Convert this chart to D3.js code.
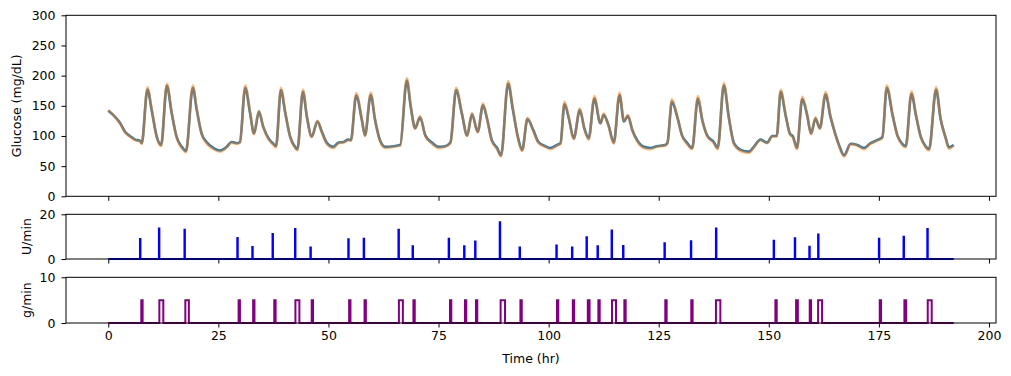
<!DOCTYPE html>
<html>
<head>
<meta charset="utf-8">
<script src="https://cdn.jsdelivr.net/npm/d3@7"></script>
<style>
  body { margin: 0; background: #fff; }
  text { font-family: "DejaVu Sans", sans-serif; }
</style>
</head>
<body>
<svg id="mainFrame" width="1011" height="376"></svg>
<script>
// glucose trace (hours), blue = CGM, orange = blood glucose
const glucoseTime = [
  0, 1.1, 2.65, 3.8, 4.9, 6.1, 7.2, 7.6,
  8.9, 9.85, 11, 12,
  13.3, 14.4, 15.5, 16.7, 17.65,
  19.2, 20.1, 21.2, 22.3, 23.9, 25.4, 26.9, 28, 29.2, 29.9,
  31.1, 32.2, 33.1, 34.2, 35.2, 36.4, 37.5, 38.1,
  39.2, 40.2, 41.3, 42.4, 42.95,
  44.2, 45.1, 46.2, 47.5, 48.5, 49.6, 51.1, 52.3, 53.4, 54.5, 55.1,
  56.3, 57.6, 58.3,
  59.6, 60.6, 61.7, 62.9, 64.8, 66.3,
  67.8, 68.7, 69.7, 70.8, 72, 73.5, 75, 76.5, 77.7,
  79, 80.3, 81.5, 82.6, 83.9, 85.1, 86, 87.1, 88.3, 89.2,
  90.8, 91.9, 93, 94, 95.2, 96.5, 97.7, 99.25, 100.4, 101.9, 102.7,
  103.6, 104.6, 105.7, 107.1, 108.1, 109.1, 110.4, 111.75, 112.5, 113.6, 114.8,
  116.1, 117.1, 118, 119, 120.1, 121.6, 123.1, 124.6, 126.5, 127,
  128, 129.2, 130.3, 131.5, 132.6,
  133.9, 134.9, 136, 137.5, 138.4,
  139.8, 140.9, 142.1, 143.6, 145.5, 146.6, 148.1, 149.6, 150.8, 151.8,
  152.7, 153.8, 154.8, 155.5, 156.4,
  157.6, 158.7, 159.6, 160.6, 161.6, 162.9, 164, 165.2, 166.1, 167.1,
  168.6, 170.1, 171.6, 173.1, 174.6, 175.8,
  176.8, 178.1, 179.2, 180.3, 181.1,
  182.4, 183.4, 184.5, 185.6, 186.4,
  188, 189, 190.2, 190.9, 192
];
const cgmValues = [
  142, 135, 122, 107, 100, 94, 92, 88,
  177, 143, 99, 85,
  183, 138, 99, 82, 75,
  180, 143, 104, 90, 80, 76, 82, 90, 88, 90,
  180, 138, 104, 140, 115, 96, 87, 83,
  176, 138, 99, 82, 78,
  173, 132, 99, 124, 107, 89, 82, 89, 90, 94, 93,
  167, 126, 101,
  168, 126, 93, 82, 83, 85,
  192, 148, 113, 131, 101, 89, 82, 83, 89,
  176, 137, 101, 136, 107, 151, 129, 93, 80, 68,
  187, 143, 99, 77, 128, 110, 90, 83, 80, 85, 88,
  153, 129, 96, 143, 113, 96, 162, 121, 135, 118, 89,
  168, 124, 133, 110, 93, 82, 80, 83, 85, 89,
  157, 132, 101, 88, 80,
  162, 126, 101, 90, 80,
  184, 132, 88, 77, 74, 82, 94, 89, 100, 100,
  173, 135, 104, 99, 80,
  161, 135, 104, 129, 113, 169, 132, 101, 82, 68,
  87, 85, 80, 88, 93, 98,
  180, 135, 101, 87, 83,
  170, 135, 99, 83, 78,
  177, 129, 96, 81, 85
];
const bgValues = [
  143, 135, 121, 106, 99, 93, 91, 87,
  181, 145, 98, 83,
  187, 139, 98, 80, 73,
  184, 145, 103, 88, 78, 74, 81, 89, 87, 89,
  184, 140, 103, 142, 114, 94, 85, 81,
  180, 139, 98, 80, 76,
  177, 133, 98, 125, 106, 87, 80, 88, 89, 93, 92,
  171, 127, 100,
  172, 127, 92, 80, 82, 84,
  196, 149, 112, 133, 100, 87, 80, 82, 88,
  180, 138, 100, 138, 106, 154, 129, 92, 78, 66,
  191, 145, 98, 75, 130, 109, 88, 82, 78, 84, 87,
  157, 130, 95, 146, 112, 94, 166, 121, 137, 117, 87,
  172, 125, 135, 109, 91, 80, 78, 82, 84, 88,
  161, 133, 100, 86, 78,
  166, 127, 100, 88, 78,
  188, 133, 86, 75, 72, 81, 93, 88, 99, 99,
  177, 136, 103, 97, 78,
  165, 136, 103, 131, 112, 173, 133, 100, 80, 66,
  86, 84, 78, 87, 92, 97,
  184, 136, 100, 85, 81,
  174, 136, 98, 81, 76,
  181, 130, 95, 79, 84
];

// insulin boluses
const bolusTimes = [7.2, 11.5, 17.3, 29.3, 32.7, 37.3, 42.4, 45.9, 54.5, 58, 65.9, 69.1,
  77.3, 80.8, 83.3, 88.9, 93.4, 101.75, 105.3, 108.6, 111.1, 114.3, 116.9, 126.3,
  132.3, 138, 151.1, 155.9, 159.2, 161.2, 175, 180.6, 186];
const bolusRates = [9.0, 13.7, 13.1, 9.4, 5.4, 11.2, 13.4, 5.1, 8.8, 9.1, 13.1, 5.7,
  9.1, 5.7, 7.8, 16.4, 5.2, 6.0, 5.2, 9.7, 5.7, 12.8, 5.8, 7.0,
  7.9, 13.6, 8.2, 9.3, 5.5, 11.0, 9.1, 10.0, 13.4];

// meals
const mealStarts = [7.5, 11.6, 17.5, 29.6, 32.9, 37.7, 42.5, 46.2, 54.7, 58.2, 66, 69.3,
  77.6, 81, 83.5, 89.1, 93.6, 101.9, 105.5, 108.9, 111.3, 114.4, 117.2, 126.5,
  132.4, 138, 151.5, 156.2, 159.3, 161.2, 175.2, 180.8, 186.1];
const mealDurations = [0.3, 0.9, 0.8, 0.3, 0.3, 0.3, 0.9, 0.3, 0.3, 0.3, 0.9, 0.3,
  0.3, 0.3, 0.3, 1.0, 0.3, 0.3, 0.3, 0.4, 0.3, 0.9, 0.3, 0.3,
  0.3, 1.0, 0.3, 0.4, 0.3, 0.9, 0.3, 0.4, 0.9];
const mealRate = 5;
const tEnd = 192;

const svg = d3.select('#mainFrame');

const left = 66, right = 996;
const xScale = d3.scaleLinear().domain([-9.6, 201.6]).range([left, right]);

const panels = [
  { top: 15.3, bottom: 196.3, domain: [0, 300], ticks: [0, 50, 100, 150, 200, 250, 300], label: 'Glucose (mg/dL)', labelX: 17 },
  { top: 214.3, bottom: 259, domain: [0, 20], ticks: [0, 20], label: 'U/min', labelX: 27 },
  { top: 277.3, bottom: 323, domain: [0, 10], ticks: [0, 10], label: 'g/min', labelX: 27 }
];

panels.forEach((p, i) => {
  p.y = d3.scaleLinear().domain(p.domain).range([p.bottom, p.top]);
  p.g = svg.append('g');

  const yAxis = d3.axisLeft(p.y).tickValues(p.ticks).tickSize(4.5).tickPadding(6).tickSizeOuter(0);
  const yg = p.g.append('g').attr('transform', `translate(${left},0)`).call(yAxis);
  yg.select('.domain').remove();
  yg.selectAll('text').attr('font-size', 12.5).attr('font-family', 'DejaVu Sans').attr('fill', '#000');

  const xAxis = d3.axisBottom(xScale).tickValues([0, 25, 50, 75, 100, 125, 150, 175, 200])
    .tickSize(4.5).tickPadding(4).tickSizeOuter(0);
  const xg = p.g.append('g').attr('transform', `translate(0,${p.bottom})`).call(xAxis);
  xg.select('.domain').remove();
  xg.selectAll('text').attr('font-size', 12.5).attr('font-family', 'DejaVu Sans').attr('fill', '#000');
  if (i < 2) xg.selectAll('text').remove();

  p.g.append('text')
    .attr('transform', `translate(${p.labelX},${(p.top + p.bottom) / 2}) rotate(-90)`)
    .attr('text-anchor', 'middle')
    .attr('dy', '0.35em')
    .attr('font-size', 12.5)
    .text(p.label);
});

// glucose panel
const glucosePanel = panels[0];
const glucoseLine = vals => d3.line()
  .x((d, i) => xScale(glucoseTime[i]))
  .y(d => glucosePanel.y(d))
  .curve(d3.curveMonotoneX)(vals);

glucosePanel.g.append('path')
  .attr('d', glucoseLine(cgmValues))
  .attr('fill', 'none')
  .attr('stroke', '#1f77b4')
  .attr('stroke-width', 2.6)
  .attr('stroke-linejoin', 'round');

glucosePanel.g.append('path')
  .attr('d', glucoseLine(bgValues))
  .attr('fill', 'none')
  .attr('stroke', '#ff7f0e')
  .attr('stroke-opacity', 0.5)
  .attr('stroke-width', 2.6)
  .attr('stroke-linejoin', 'round');

// insulin panel
const insulinPanel = panels[1];
const insulinPts = [[0, 0]];
bolusTimes.forEach((t, i) => {
  insulinPts.push([t, 0], [t, bolusRates[i]], [t + 0.1, bolusRates[i]], [t + 0.1, 0]);
});
insulinPts.push([tEnd, 0]);

insulinPanel.g.append('path')
  .attr('d', d3.line().x(d => xScale(d[0])).y(d => insulinPanel.y(d[1]))(insulinPts))
  .attr('fill', 'none')
  .attr('stroke', 'blue')
  .attr('stroke-width', 2);

// meal panel
const mealPanel = panels[2];
const mealPts = [[0, 0]];
mealStarts.forEach((t, i) => {
  const e = t + mealDurations[i];
  mealPts.push([t, 0], [t, mealRate], [e, mealRate], [e, 0]);
});
mealPts.push([tEnd, 0]);

mealPanel.g.append('path')
  .attr('d', d3.line().x(d => xScale(d[0])).y(d => mealPanel.y(d[1]))(mealPts))
  .attr('fill', 'none')
  .attr('stroke', 'purple')
  .attr('stroke-width', 2);

// frames
panels.forEach(p => {
  p.g.append('rect')
    .attr('x', left)
    .attr('y', p.top)
    .attr('width', right - left)
    .attr('height', p.bottom - p.top)
    .attr('fill', 'none')
    .attr('stroke', '#000')
    .attr('stroke-width', 1);
});

svg.append('text')
  .attr('x', (left + right) / 2)
  .attr('y', 363)
  .attr('text-anchor', 'middle')
  .attr('font-size', 12.5)
  .text('Time (hr)');
</script>
</body>
</html>
